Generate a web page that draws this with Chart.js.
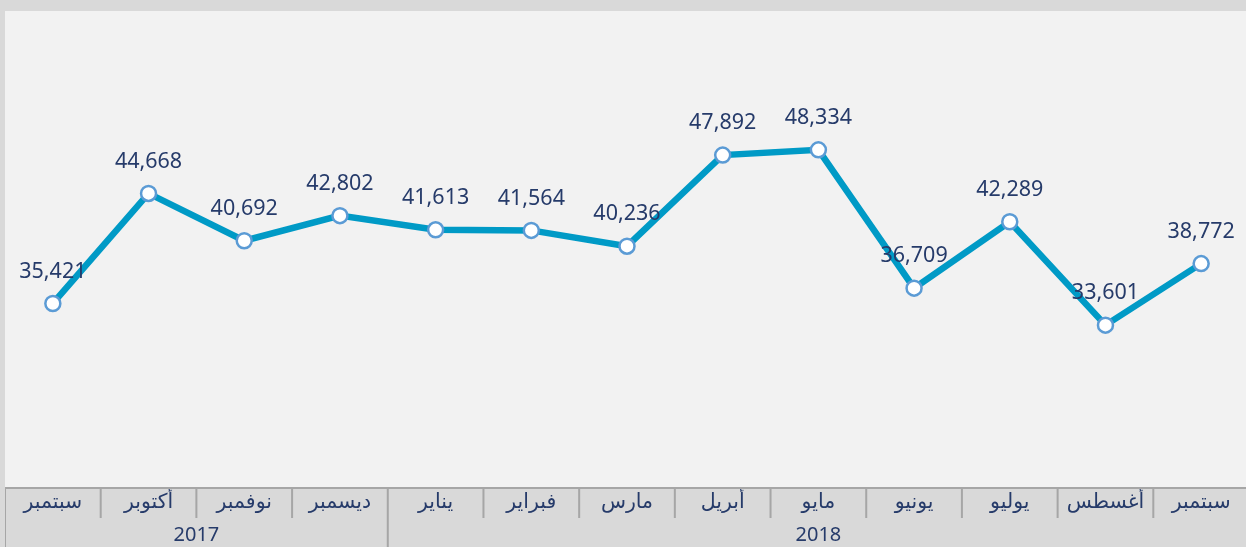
<!DOCTYPE html>
<html>
<head>
<meta charset="utf-8">
<script src="https://cdn.jsdelivr.net/npm/chart.js@4"></script>
<style>
html,body{margin:0;padding:0;background:#d9d9d9;overflow:hidden;width:1246px;height:547px;}
#wrap{position:absolute;left:5px;top:0;width:1244px;height:547px;}
</style>
</head>
<body>
<div id="wrap"><canvas id="c"></canvas></div>
<script>
const months = ['سبتمبر','أكتوبر','نوفمبر','ديسمبر','يناير','فبراير','مارس','أبريل','مايو','يونيو','يوليو','أغسطس','سبتمبر'];
const values = [35421, 44668, 40692, 42802, 41613, 41564, 40236, 47892, 48334, 36709, 42289, 33601, 38772];
const years = ['2017', '2018'];
const yearStart = [0, 4];
const yearEnd = [3, 12];

const FONT = "'Noto Sans', 'DejaVu Sans', sans-serif";
const NAVY = '#263b6a';

const decor = {
  id: 'decor',
  beforeDraw(chart) {
    const {ctx, chartArea: a} = chart;
    ctx.save();
    ctx.fillStyle = '#f2f2f2';
    ctx.fillRect(a.left, a.top, a.right - a.left + 10, a.bottom - a.top);
    ctx.restore();
  },
  afterDraw(chart) {
    const {ctx, chartArea: a} = chart;
    const x = chart.scales.x;
    const half = (x.getPixelForValue(1) - x.getPixelForValue(0)) / 2;
    ctx.save();
    ctx.strokeStyle = '#a6a6a6';
    ctx.lineWidth = 2;
    ctx.beginPath();
    ctx.moveTo(a.left - 5, a.bottom + 1);
    ctx.lineTo(a.right + 10, a.bottom + 1);
    ctx.stroke();
    for (let i = 0; i < months.length; i++) {
      const bx = x.getPixelForValue(i) - half;
      const full = yearStart.includes(i);
      ctx.beginPath();
      ctx.moveTo(bx, a.bottom + 1);
      ctx.lineTo(bx, full ? chart.height : a.bottom + 31);
      ctx.stroke();
    }
    ctx.fillStyle = NAVY;
    ctx.font = '20px ' + FONT;
    ctx.textAlign = 'center';
    ctx.textBaseline = 'middle';
    for (let g = 0; g < years.length; g++) {
      const cx = (x.getPixelForValue(yearStart[g]) + x.getPixelForValue(yearEnd[g])) / 2;
      ctx.fillText(years[g], cx, a.bottom + 48);
    }
    // data labels
    const meta = chart.getDatasetMeta(0);
    ctx.font = '21.5px ' + FONT;
    meta.data.forEach((pt, i) => {
      ctx.fillText(values[i].toLocaleString('en-US'), pt.x, pt.y - 32);
    });
    ctx.restore();
  }
};

new Chart(document.getElementById('c'), {
  type: 'line',
  data: {
    labels: months,
    datasets: [{
      data: values,
      borderColor: '#009ac6',
      borderWidth: 6.5,
      pointRadius: 7.5,
      pointBackgroundColor: '#ffffff',
      pointBorderColor: '#5b9bd5',
      pointBorderWidth: 2.5,
      tension: 0,
      clip: false
    }]
  },
  options: {
    responsive: true,
    maintainAspectRatio: false,
    animation: false,
    layout: {autoPadding: false, padding: {top: 11, left: 0, right: 0, bottom: 0}},
    plugins: {legend: {display: false}, tooltip: {enabled: false}},
    scales: {
      x: {
        offset: true,
        grid: {display: false, drawTicks: false},
        border: {display: false},
        ticks: {color: NAVY, font: {size: 20.5, family: FONT}, padding: 3, maxRotation: 0, autoSkip: false},
        afterFit(s) { s.height = 60; }
      },
      y: {display: false, min: 20000, max: 60000}
    }
  },
  plugins: [decor]
});
</script>
</body>
</html>
